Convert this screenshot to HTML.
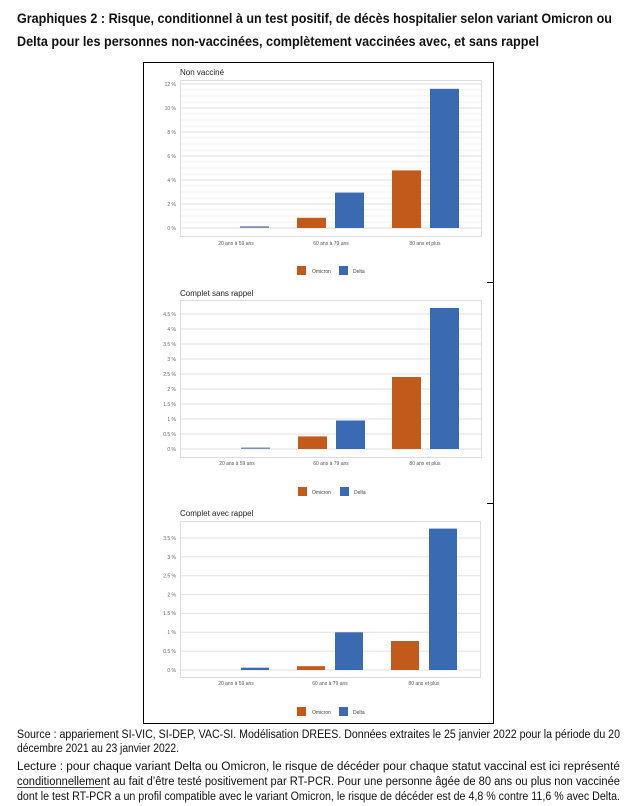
<!DOCTYPE html>
<html><head><meta charset="utf-8"><style>html,body{margin:0;padding:0;background:#fff}svg{display:block}</style></head>
<body>
<svg width="635" height="806" viewBox="0 0 635 806" xmlns="http://www.w3.org/2000/svg" font-family="Liberation Sans, Arial, sans-serif">
<rect width="635" height="806" fill="#fff"/>
<g font-weight="bold" font-size="13.5" fill="#111">
<text x="17" y="23" textLength="595" lengthAdjust="spacingAndGlyphs">Graphiques 2 : Risque, conditionnel à un test positif, de décès hospitalier selon variant Omicron ou</text>
<text x="17" y="46" textLength="522" lengthAdjust="spacingAndGlyphs">Delta pour les personnes non-vaccinées, complètement vaccinées avec, et sans rappel</text>
</g>
<rect x="143.5" y="62.5" width="350" height="661" fill="none" stroke="#000" stroke-width="1"/>
<line x1="487" y1="282.5" x2="494" y2="282.5" stroke="#000"/>
<line x1="487" y1="503.5" x2="494" y2="503.5" stroke="#000"/>

<!-- Panel 1 -->
<text x="180" y="75" font-size="8" fill="#222">Non vacciné</text>
<rect x="180.5" y="80.5" width="301" height="156" fill="#fff" stroke="#ddd"/>
<g stroke="#eee" stroke-width="0.8">
<line x1="181" x2="481" y1="222" y2="222"/><line x1="181" x2="481" y1="216" y2="216"/><line x1="181" x2="481" y1="210" y2="210"/>
<line x1="181" x2="481" y1="198" y2="198"/><line x1="181" x2="481" y1="192" y2="192"/><line x1="181" x2="481" y1="186" y2="186"/>
<line x1="181" x2="481" y1="174" y2="174"/><line x1="181" x2="481" y1="168" y2="168"/><line x1="181" x2="481" y1="162" y2="162"/>
<line x1="181" x2="481" y1="150" y2="150"/><line x1="181" x2="481" y1="144" y2="144"/><line x1="181" x2="481" y1="138" y2="138"/>
<line x1="181" x2="481" y1="126" y2="126"/><line x1="181" x2="481" y1="120" y2="120"/><line x1="181" x2="481" y1="114" y2="114"/>
<line x1="181" x2="481" y1="102" y2="102"/><line x1="181" x2="481" y1="96" y2="96"/><line x1="181" x2="481" y1="90" y2="90"/>
</g>
<g stroke="#ddd" stroke-width="1">
<line x1="181" x2="481" y1="228" y2="228"/><line x1="181" x2="481" y1="204" y2="204"/><line x1="181" x2="481" y1="180" y2="180"/>
<line x1="181" x2="481" y1="156" y2="156"/><line x1="181" x2="481" y1="132" y2="132"/><line x1="181" x2="481" y1="108" y2="108"/><line x1="181" x2="481" y1="84" y2="84"/>
</g>
<g font-size="5" fill="#666" text-anchor="end">
<text x="176" y="230">0 %</text><text x="176" y="206">2 %</text><text x="176" y="182">4 %</text><text x="176" y="158">6 %</text><text x="176" y="134">8 %</text><text x="176" y="110">10 %</text><text x="176" y="86">12 %</text>
</g>
<rect x="240" y="226.2" width="29" height="1.8" fill="#7f93b0"/>
<rect x="297" y="217.8" width="29" height="10.2" fill="#c15a1b"/>
<rect x="335" y="192.6" width="29" height="35.4" fill="#3a6ab1"/>
<rect x="392" y="170.4" width="29" height="57.6" fill="#c15a1b"/>
<rect x="430" y="88.8" width="29" height="139.2" fill="#3a6ab1"/>
<g font-size="5" fill="#555" text-anchor="middle">
<text x="236" y="245">20 ans à 59 ans</text><text x="331" y="245">60 ans à 79 ans</text><text x="425" y="245">80 ans et plus</text>
</g>
<rect x="297" y="266" width="9" height="9" fill="#c15a1b"/><text x="312" y="273" font-size="5" fill="#444">Omicron</text>
<rect x="339" y="266" width="9" height="9" fill="#3a6ab1"/><text x="353" y="273" font-size="5" fill="#444">Delta</text>

<!-- Panel 2 -->
<text x="180" y="296" font-size="8" fill="#222">Complet sans rappel</text>
<rect x="180.5" y="300.5" width="301" height="157" fill="#fff" stroke="#ddd"/>
<g stroke="#e2e2e2" stroke-width="1">
<line x1="181" x2="481" y1="449" y2="449"/><line x1="181" x2="481" y1="434" y2="434"/><line x1="181" x2="481" y1="419" y2="419"/><line x1="181" x2="481" y1="404" y2="404"/><line x1="181" x2="481" y1="389" y2="389"/><line x1="181" x2="481" y1="374" y2="374"/><line x1="181" x2="481" y1="359" y2="359"/><line x1="181" x2="481" y1="344" y2="344"/><line x1="181" x2="481" y1="329" y2="329"/><line x1="181" x2="481" y1="314" y2="314"/>
</g>
<g font-size="5" fill="#666" text-anchor="end">
<text x="176" y="451">0 %</text><text x="176" y="436">0.5 %</text><text x="176" y="421">1 %</text><text x="176" y="406">1.5 %</text><text x="176" y="391">2 %</text><text x="176" y="376">2.5 %</text><text x="176" y="361">3 %</text><text x="176" y="346">3.5 %</text><text x="176" y="331">4 %</text><text x="176" y="316">4.5 %</text>
</g>
<rect x="241" y="447.5" width="29" height="1.5" fill="#7f93b0"/>
<rect x="298" y="436.4" width="29" height="12.6" fill="#c15a1b"/>
<rect x="336" y="420.5" width="29" height="28.5" fill="#3a6ab1"/>
<rect x="392" y="377" width="29" height="72" fill="#c15a1b"/>
<rect x="430" y="308" width="29" height="141" fill="#3a6ab1"/>
<g font-size="5" fill="#555" text-anchor="middle">
<text x="237" y="465">20 ans à 59 ans</text><text x="331" y="465">60 ans à 79 ans</text><text x="425" y="465">80 ans et plus</text>
</g>
<rect x="298" y="487" width="9" height="9" fill="#c15a1b"/><text x="312" y="494" font-size="5" fill="#444">Omicron</text>
<rect x="340" y="487" width="9" height="9" fill="#3a6ab1"/><text x="354" y="494" font-size="5" fill="#444">Delta</text>

<!-- Panel 3 -->
<text x="180" y="516" font-size="8" fill="#222">Complet avec rappel</text>
<rect x="180.5" y="521.5" width="300" height="156" fill="#fff" stroke="#ddd"/>
<g stroke="#e2e2e2" stroke-width="1">
<line x1="181" x2="480" y1="670" y2="670"/><line x1="181" x2="480" y1="651.1" y2="651.1"/><line x1="181" x2="480" y1="632.3" y2="632.3"/><line x1="181" x2="480" y1="613.4" y2="613.4"/><line x1="181" x2="480" y1="594.6" y2="594.6"/><line x1="181" x2="480" y1="575.7" y2="575.7"/><line x1="181" x2="480" y1="556.9" y2="556.9"/><line x1="181" x2="480" y1="538" y2="538"/>
</g>
<g font-size="5" fill="#666" text-anchor="end">
<text x="176" y="672">0 %</text><text x="176" y="653">0.5 %</text><text x="176" y="634">1 %</text><text x="176" y="615">1.5 %</text><text x="176" y="596.5">2 %</text><text x="176" y="577.5">2.5 %</text><text x="176" y="559">3 %</text><text x="176" y="540">3.5 %</text>
</g>
<rect x="241" y="667.7" width="28" height="2.3" fill="#3a6ab1"/>
<rect x="297" y="666.2" width="28" height="3.8" fill="#c15a1b"/>
<rect x="335" y="632.3" width="28" height="37.7" fill="#3a6ab1"/>
<rect x="391" y="641" width="28" height="29" fill="#c15a1b"/>
<rect x="429" y="528.6" width="28" height="141.4" fill="#3a6ab1"/>
<g font-size="5" fill="#555" text-anchor="middle">
<text x="236" y="685">20 ans à 59 ans</text><text x="330" y="685">60 ans à 79 ans</text><text x="424" y="685">80 ans et plus</text>
</g>
<rect x="297" y="707" width="9" height="9" fill="#c15a1b"/><text x="312" y="714" font-size="5" fill="#444">Omicron</text>
<rect x="339" y="707" width="9" height="9" fill="#3a6ab1"/><text x="353" y="714" font-size="5" fill="#444">Delta</text>

<!-- Footer text -->
<g font-size="11.5" fill="#111">
<text x="17" y="738" textLength="603" lengthAdjust="spacingAndGlyphs">Source : appariement SI-VIC, SI-DEP, VAC-SI. Modélisation DREES. Données extraites le 25 janvier 2022 pour la période du 20</text>
<text x="17" y="752" textLength="162" lengthAdjust="spacingAndGlyphs">décembre 2021 au 23 janvier 2022.</text>
<text x="17" y="770" textLength="603" lengthAdjust="spacingAndGlyphs">Lecture : pour chaque variant Delta ou Omicron, le risque de décéder pour chaque statut vaccinal est ici représenté</text>
<text x="17" y="785" textLength="603" lengthAdjust="spacingAndGlyphs">conditionnellement au fait d’être testé positivement par RT-PCR. Pour une personne âgée de 80 ans ou plus non vaccinée</text>
<line x1="17" y1="787.5" x2="103" y2="787.5" stroke="#111" stroke-width="0.8"/>
<text x="17" y="800" textLength="603" lengthAdjust="spacingAndGlyphs">dont le test RT-PCR a un profil compatible avec le variant Omicron, le risque de décéder est de 4,8 % contre 11,6 % avec Delta.</text>
</g>
</svg>
</body></html>
